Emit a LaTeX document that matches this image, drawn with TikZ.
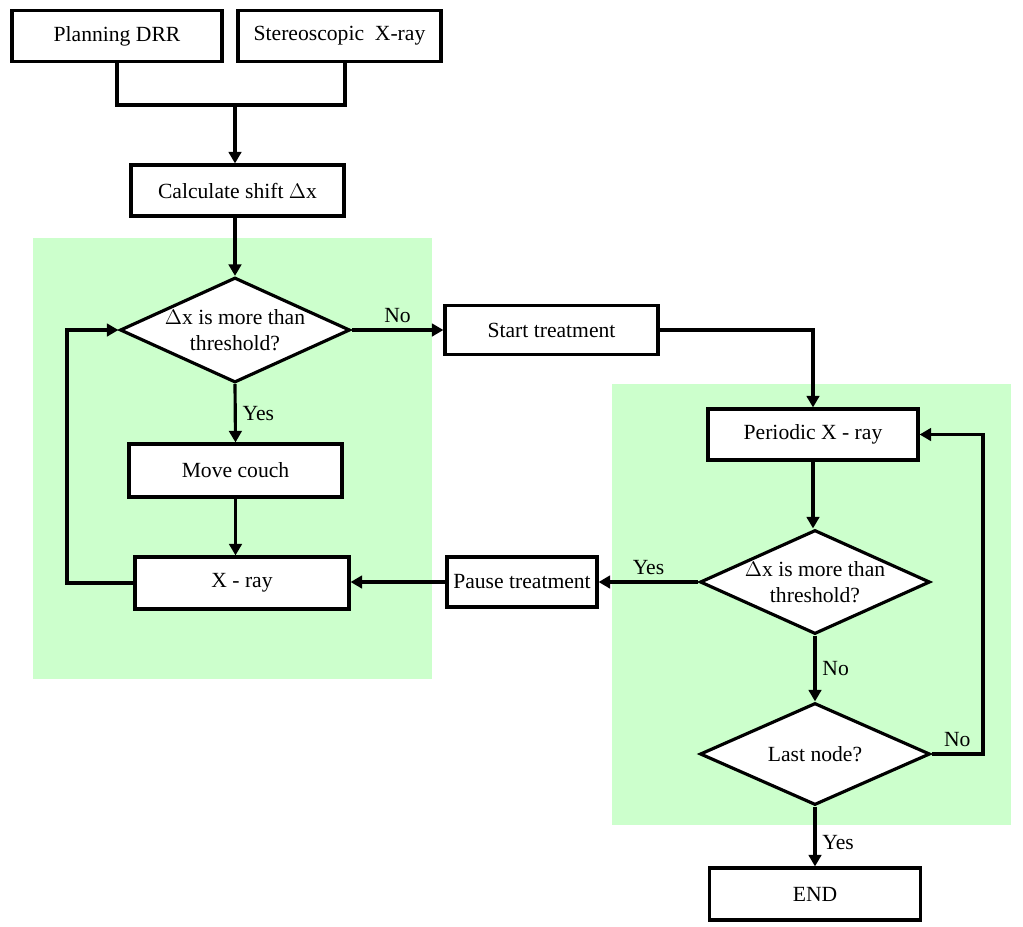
\documentclass[tikz,border=0pt]{standalone}
\usepackage{fontspec}
\setmainfont{Liberation Serif}
\usetikzlibrary{shapes.geometric,arrows.meta}
\definecolor{zonegreen}{RGB}{204,255,204}

\begin{document}
\begin{tikzpicture}[
  line width=1.8pt,
  every node/.style={font=\fontsize{12.3}{15}\selectfont},
  stepbox/.style={draw, fill=white, rectangle, inner sep=0pt, minimum height=1.02cm},
  decision/.style={draw, fill=white, diamond, aspect=2.2, inner sep=-3pt, align=center, minimum width=4.6cm, minimum height=2.1cm},
  flow/.style={-{Triangle[length=2.3mm,width=2.5mm]}}
]
  \useasboundingbox (0,0) rectangle (20.46,-18.52);

  % Green zones
  \fill[zonegreen] (0.66,-4.76) rectangle (8.64,-13.58);
  \fill[zonegreen] (12.24,-7.68) rectangle (20.22,-16.5);

  % Inputs
  \node[stepbox, minimum width=4.2cm] (plan) at (2.34,-0.72) {Planning DRR};
  \node[stepbox, minimum width=4.06cm] (stereo) at (6.79,-0.72) {Stereoscopic\ \ X-ray};
  \node[stepbox, minimum width=4.26cm] (calc) at (4.75,-3.81) {Calculate shift $\Delta$x};

  % Set-up loop
  \node[decision] (check) at (4.7,-6.6) {$\Delta$x is more than\\threshold?};
  \node[stepbox, minimum width=4.26cm, minimum height=1.06cm] (couch) at (4.71,-9.41) {Move couch};
  \node[stepbox, minimum width=4.28cm, minimum height=1.04cm] (xray) at (4.84,-11.66) {X - ray};

  % Treatment
  \node[stepbox, minimum width=4.26cm, minimum height=0.98cm] (start) at (11.03,-6.6) {Start treatment};
  \node[stepbox, minimum width=3.0cm, minimum height=1.0cm] (pause) at (10.44,-11.64) {Pause treatment};

  % Monitoring loop
  \node[stepbox, minimum width=4.2cm] (periodic) at (16.26,-8.69) {Periodic X - ray};
  \node[decision, minimum height=2.08cm] (recheck) at (16.3,-11.64) {$\Delta$x is more than\\threshold?};
  \node[decision, minimum height=2.04cm] (last) at (16.3,-15.08) {Last node?};
  \node[stepbox, minimum width=4.22cm, minimum height=1.04cm] (end) at (16.3,-17.88) {END};

  % Connectors
  \coordinate (join) at (4.7,-2.1);
  \coordinate (stereoleg) at ([xshift=0.11cm]stereo.south);
  \draw (plan.south) -- (plan.south |- join) -- (stereoleg |- join) -- (stereoleg);
  \draw[flow] (join) -- (join |- calc.north);
  \draw[flow] (calc.south -| check.north) -- (check.north);
  \draw[flow] (check.east) -- node[above] (no1) {No} (start.west);
  \draw[flow] (check.south) -- node[right] (yes1) {Yes} (couch.north);
  \draw[flow] (couch.south) -- (couch.south |- xray.north);
  \draw[flow] (xray.west) -- (1.34,-11.66) |- (check.west);
  \draw[flow] (start.east) -| (periodic.north);
  \draw[flow] (periodic.south) -- (periodic.south |- recheck.north);
  \draw[flow] (recheck.west) -- node[above] (yes2) {Yes} (pause.east);
  \draw[flow] (pause.west) -- (pause.west -| xray.east);
  \draw[flow] (recheck.south) -- node[right] (no2) {No} (last.north);
  \draw[flow] (last.east) -- node[above] (no3) {No} (19.66,-15.08) |- (periodic.east);
  \draw[flow] (last.south) -- node[right, pos=0.6] (yes3) {Yes} (end.north);
\end{tikzpicture}
\end{document}
